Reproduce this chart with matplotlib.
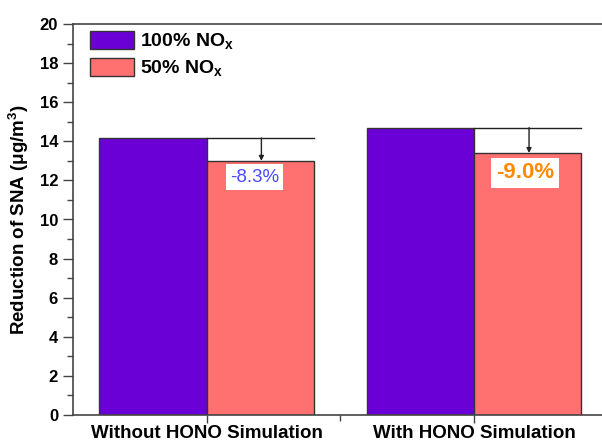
import numpy as np
import matplotlib
matplotlib.use("Agg")
import matplotlib.pyplot as plt
from matplotlib.ticker import MultipleLocator, FixedLocator

plt.rcParams['font.family'] = ['Liberation Sans', 'DejaVu Sans']
plt.rcParams['font.weight'] = 'bold'
plt.rcParams['mathtext.fontset'] = 'custom'
plt.rcParams['mathtext.bf'] = 'Liberation Sans:bold'
plt.rcParams['mathtext.rm'] = 'Liberation Sans:bold'

# data
categories = ['Without HONO Simulation', 'With HONO Simulation']
full_nox = [14.17, 14.7]
half_nox = [13.0, 13.4]
changes = ['-8.3%', '-9.0%']
series_names = [r'100% NO$_\mathbf{x}$', r'50% NO$_\mathbf{x}$']

purple = '#6b00d6'
salmon = '#ff7070'
edge = '#333333'

fig = plt.figure(figsize=(6.02, 4.44), dpi=100)
ax = fig.add_axes([72.7/602, 1-415/444, (608-72.7)/602, (415-24)/444])

x = np.arange(len(categories))
w = 0.4
b1 = ax.bar(x - w/2, full_nox, w, color=purple, edgecolor=edge, linewidth=1, label=series_names[0])
b2 = ax.bar(x + w/2, half_nox, w, color=salmon, edgecolor=edge, linewidth=1, label=series_names[1])

# reference lines and arrows
for i in range(len(categories)):
    ax.plot([x[i], x[i] + w], [full_nox[i], full_nox[i]], color='#222222', lw=1)
    ax.annotate('', xy=(x[i] + w/2 + 0.005, half_nox[i]), xytext=(x[i] + w/2 + 0.005, full_nox[i]),
                arrowprops=dict(arrowstyle='-|>', color='#222222', lw=1, mutation_scale=7,
                                shrinkA=0, shrinkB=0))

ax.text(x[0] + 0.179, 12.17, changes[0], color='#4a4aff', fontsize=13.5, fontweight='normal',
        ha='center', va='center', bbox=dict(facecolor='white', edgecolor='none', pad=3))
ax.text(x[1] + 0.19, 12.38, changes[1], color='#ff8a00', fontsize=16, fontweight='bold',
        ha='center', va='center', bbox=dict(facecolor='white', edgecolor='none', pad=3.5))

ax.set_xlim(-0.5, 1.5)
ax.set_ylim(0, 20)
ax.yaxis.set_major_locator(MultipleLocator(2))
ax.yaxis.set_minor_locator(MultipleLocator(1))
ax.set_xticks(x)
ax.set_xticklabels(categories, fontsize=13.5, fontweight='bold')
ax.xaxis.set_minor_locator(FixedLocator([0.5]))
ax.tick_params(axis='y', which='major', labelsize=12, direction='out', length=7, width=1, color='#444444')
ax.tick_params(axis='y', which='minor', direction='out', length=4, width=1, color='#444444')
ax.tick_params(axis='x', which='major', direction='out', length=6, width=1, color='#444444', pad=1)
ax.tick_params(axis='x', which='minor', direction='out', length=4, width=1, color='#444444')
for s in ax.spines.values():
    s.set_color('#444444')
    s.set_linewidth(1.2)

ax.set_ylabel(r'Reduction of SNA (μg/m$^\mathbf{3}$)', fontsize=13.5, fontweight='bold', labelpad=6)

fig.legend(handles=[b1, b2], labels=series_names, loc='upper left',
           bbox_to_anchor=(90/602, 1-31/444), frameon=False,
           prop={'weight': 'bold', 'size': 14}, borderpad=0, borderaxespad=0,
           handlelength=2.26, handleheight=1.08, labelspacing=0.3, handletextpad=0.3)

fig.savefig('out.png', dpi=100)
